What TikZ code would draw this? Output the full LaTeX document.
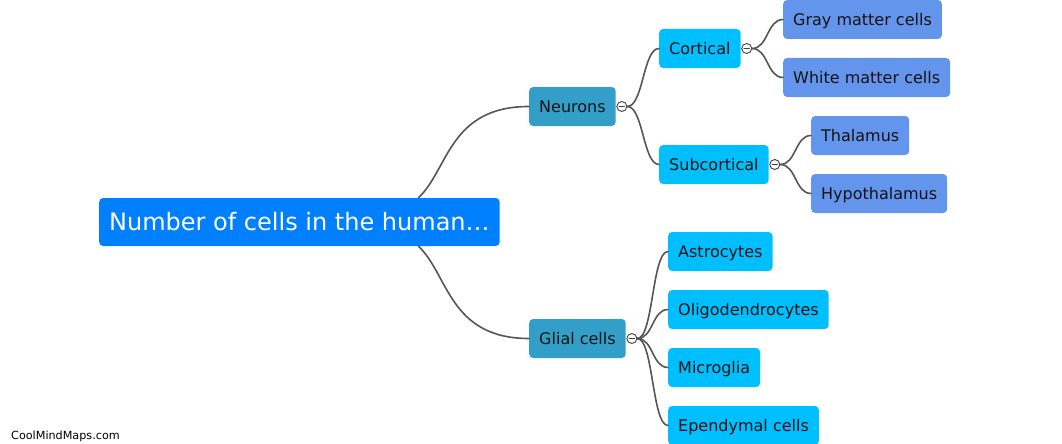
\documentclass[tikz,border=0pt]{standalone}
\usepackage{fontspec}
\setmainfont{DejaVu Sans}
\usetikzlibrary{calc}
\definecolor{rootblue}{RGB}{0,128,255}
\definecolor{midblue}{RGB}{51,159,200}
\definecolor{subblue}{RGB}{0,191,255}
\definecolor{leafblue}{RGB}{100,149,237}
\definecolor{linkgray}{RGB}{85,85,85}
\begin{document}
\begin{tikzpicture}[x=1pt,y=-1pt,line cap=round]
\tikzstyle{box}=[rounded corners=4pt,anchor=west,inner xsep=10pt,inner ysep=0pt,minimum height=39pt,text height=11.7pt,text depth=0pt,text=black!93,font=\fontsize{16}{19}\selectfont]
\tikzstyle{rootbox}=[box,fill=rootblue,text=white,minimum height=48pt,minimum width=400pt,text height=17.5pt,font=\fontsize{24}{28}\selectfont]
\tikzstyle{midbox}=[box,fill=midblue]
\tikzstyle{subbox}=[box,fill=subblue]
\tikzstyle{leafbox}=[box,fill=leafblue]
\tikzstyle{fold}=[circle,draw=black!75,fill=white,line width=0.9pt,inner sep=0pt,minimum size=10pt,
  path picture={\draw[line width=1.5pt] ($(path picture bounding box.center)+(-2.5,0)$) -- ++(5,0);}]
\tikzstyle{link}=[draw=linkgray,line width=1.6pt]
\useasboundingbox (0,0) rectangle (1062,444);
% nodes
\node[rootbox] (root) at (99,222) {Number of cells in the human\ldots};
\node[midbox] (neur) at (529,106.5) {Neurons};
\node[midbox] (glia) at (529,338.5) {Glial cells};
\node[subbox] (cort) at (659,48.5) {Cortical};
\node[subbox] (subc) at (659,164.5) {Subcortical};
\node[leafbox] (gray) at (783,19.5) {Gray matter cells};
\node[leafbox] (white) at (783,77.5) {White matter cells};
\node[leafbox] (thal) at (811,135.5) {Thalamus};
\node[leafbox] (hypo) at (811,193.5) {Hypothalamus};
\node[subbox] (astro) at (668,251.5) {Astrocytes};
\node[subbox] (oligo) at (668,309.5) {Oligodendrocytes};
\node[subbox] (micro) at (668,367.5) {Microglia};
\node[subbox] (epend) at (668,425.5) {Ependymal cells};
% fold markers
\node[fold] (nfold) at ($(neur.east)+(6,0)$) {};
\node[fold] (gfold) at ($(glia.east)+(6,0)$) {};
\node[fold] (cfold) at ($(cort.east)+(6,0)$) {};
\node[fold] (sfold) at ($(subc.east)+(6,0)$) {};
% links
\draw[link] ([xshift=119pt]root.north) .. controls +(30,-28) and +(-80,0) .. (neur.west);
\draw[link] ([xshift=119pt]root.south) .. controls +(30,28) and +(-80,0) .. (glia.west);
\foreach \c in {cort,subc}
	\draw[link] (nfold.east) .. controls +(16,0) and +(-16,0) .. (\c.west);
\foreach \c in {gray,white}
	\draw[link] (cfold.east) .. controls +(16,0) and +(-16,0) .. (\c.west);
\foreach \c in {thal,hypo}
	\draw[link] (sfold.east) .. controls +(16,0) and +(-16,0) .. (\c.west);
\foreach \c in {astro,oligo,micro,epend}
	\draw[link] (gfold.east) .. controls +(16,0) and +(-16,0) .. (\c.west);
% watermark
\node[anchor=west,inner sep=0pt,font=\fontsize{11.2}{13}\selectfont] (mark) at (11,436) {CoolMindMaps.com};
\end{tikzpicture}
\end{document}
